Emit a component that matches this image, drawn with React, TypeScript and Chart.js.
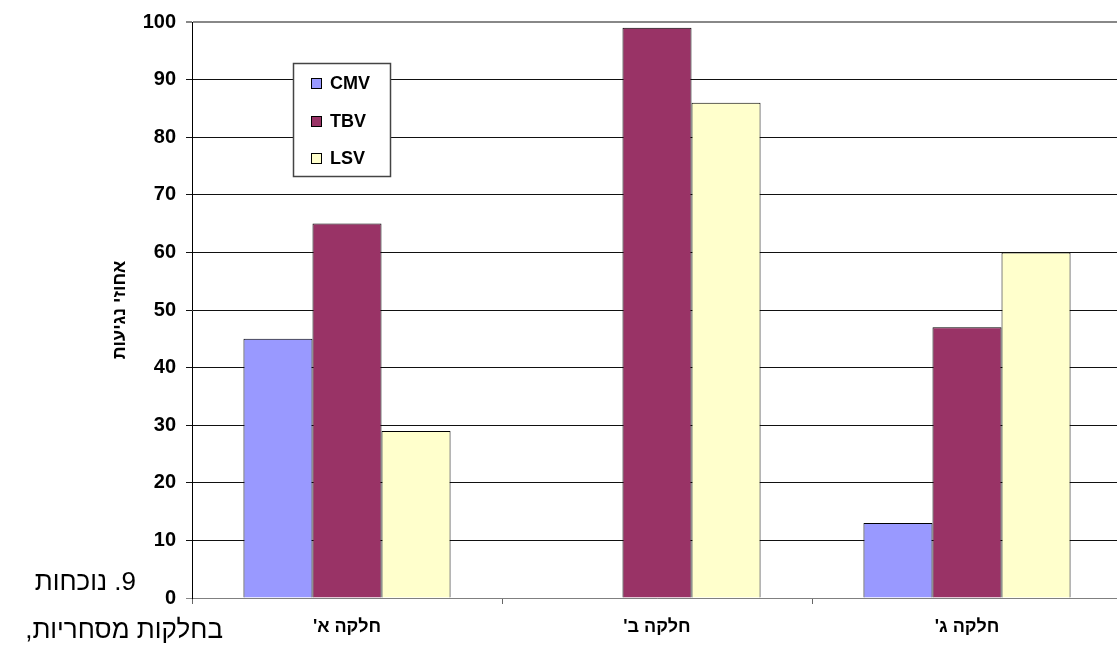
import React, { useEffect, useRef } from 'react';
import { Chart, registerables } from 'chart.js';

Chart.register(...registerables);

// Plot content
const categories = ["חלקה א'", "חלקה ב'", "חלקה ג'"];
const seriesNames = ['CMV', 'TBV', 'LSV'];
const cmvValues = [45, 0, 13];
const tbvValues = [65, 99, 47];
const lsvValues = [29, 86, 60];
const seriesColors = ['#9999FF', '#993366', '#FFFFCC'];
const yMin = 0;
const yMax = 100;
const yStep = 10;
const yAxisTitle = 'אחוזי נגיעות';
const captionLines = ['9. נוכחות', 'בחלקות מסחריות,'];

const FONT = "'Liberation Sans', Arial, 'DejaVu Sans', sans-serif";
// Right-to-left mark keeps the trailing geresh on the left side of the Hebrew letter
const RLM = '\u200F';

// Boxed legend drawn inside the plot area, in the upper-left corner
const boxLegend = {
  id: 'boxLegend',
  afterDraw(chart: any) {
    const { ctx, chartArea } = chart;
    const x = chartArea.left + 101;
    const y = chartArea.top + 41;
    const w = 97;
    const h = 113;
    ctx.save();
    ctx.fillStyle = '#ffffff';
    ctx.fillRect(x, y, w, h);
    ctx.strokeStyle = '#444444';
    ctx.lineWidth = 1.5;
    ctx.strokeRect(x + 0.5, y + 0.5, w, h);
    ctx.font = `bold 18px ${FONT}`;
    ctx.textBaseline = 'middle';
    ctx.textAlign = 'left';
    chart.data.datasets.forEach((ds: any, i: number) => {
      const cy = y + 20.5 + i * 37.5;
      ctx.fillStyle = ds.backgroundColor;
      ctx.fillRect(x + 18, Math.round(cy - 5.5), 11, 11);
      ctx.strokeStyle = '#000000';
      ctx.lineWidth = 1;
      ctx.strokeRect(x + 18.5, Math.round(cy - 5.5) + 0.5, 10, 10);
      ctx.fillStyle = '#000000';
      ctx.fillText(ds.label, x + 37, cy + 1);
    });
    ctx.restore();
  },
};

export default function App() {
  const canvasRef = useRef<HTMLCanvasElement | null>(null);

  useEffect(() => {
    const canvas = canvasRef.current;
    if (!canvas) return;
    const seriesValues = [cmvValues, tbvValues, lsvValues];
    const chart = new Chart(canvas, {
      type: 'bar',
      data: {
        labels: categories,
        datasets: seriesNames.map((name, i) => ({
          label: name,
          data: seriesValues[i],
          backgroundColor: seriesColors[i],
          borderColor: '#000000',
          borderWidth: 1,
          categoryPercentage: 0.668,
          barPercentage: 1.0,
        })),
      },
      options: {
        responsive: false,
        animation: false,
        devicePixelRatio: 1,
        layout: { padding: { top: 20, right: 3, left: 0, bottom: 0 } },
        plugins: {
          legend: { display: false },
          tooltip: { enabled: false },
        },
        scales: {
          x: {
            grid: {
              display: true,
              drawOnChartArea: false,
              drawTicks: true,
              tickLength: 6,
              color: '#666666',
              offset: true,
            },
            border: { display: true, color: '#808080', width: 1 },
            ticks: {
              color: '#000000',
              font: { family: FONT, size: 18, weight: 'bold' },
              padding: 12,
              maxRotation: 0,
              autoSkip: false,
              callback: (_v: any, i: number) => categories[i] + RLM,
            },
            afterFit: (scale: any) => {
              scale.height = 48;
            },
          },
          y: {
            min: yMin,
            max: yMax,
            ticks: {
              stepSize: yStep,
              color: '#000000',
              font: { family: FONT, size: 20, weight: 'bold' },
              padding: 10,
            },
            grid: {
              drawTicks: true,
              tickLength: 6,
              color: (c: any) =>
                c.tick && (c.tick.value === yMax || c.tick.value === yMin) ? '#888888' : '#111111',
              lineWidth: (c: any) => (c.tick && c.tick.value === yMax ? 2 : 1),
            },
            border: { display: true, color: '#000000', width: 1 },
            title: {
              display: true,
              text: yAxisTitle,
              color: '#000000',
              font: { family: FONT, size: 18, weight: 'bold' },
              padding: { top: 109, bottom: 0 },
            },
            afterFit: (scale: any) => {
              scale.width = 192;
            },
          },
        },
      },
      plugins: [boxLegend],
    });
    return () => chart.destroy();
  }, []);

  const captionStyle: React.CSSProperties = {
    position: 'absolute',
    direction: 'rtl',
    whiteSpace: 'nowrap',
    fontFamily: FONT,
    fontSize: 26,
    lineHeight: '26px',
    color: '#000000',
  };

  return (
    <div
      style={{
        position: 'absolute',
        left: 0,
        top: 0,
        width: 1117,
        height: 646,
        overflow: 'hidden',
        background: '#ffffff',
      }}
    >
      <canvas
        ref={canvasRef}
        width={1125}
        height={646}
        style={{ display: 'block', width: 1125, height: 646 }}
      />
      <div dir="rtl" style={{ ...captionStyle, right: 1117 - 136, top: 568 }}>
        {captionLines[0]}
      </div>
      <div dir="rtl" style={{ ...captionStyle, right: 1117 - 223, top: 616 }}>
        {captionLines[1]}
      </div>
    </div>
  );
}
